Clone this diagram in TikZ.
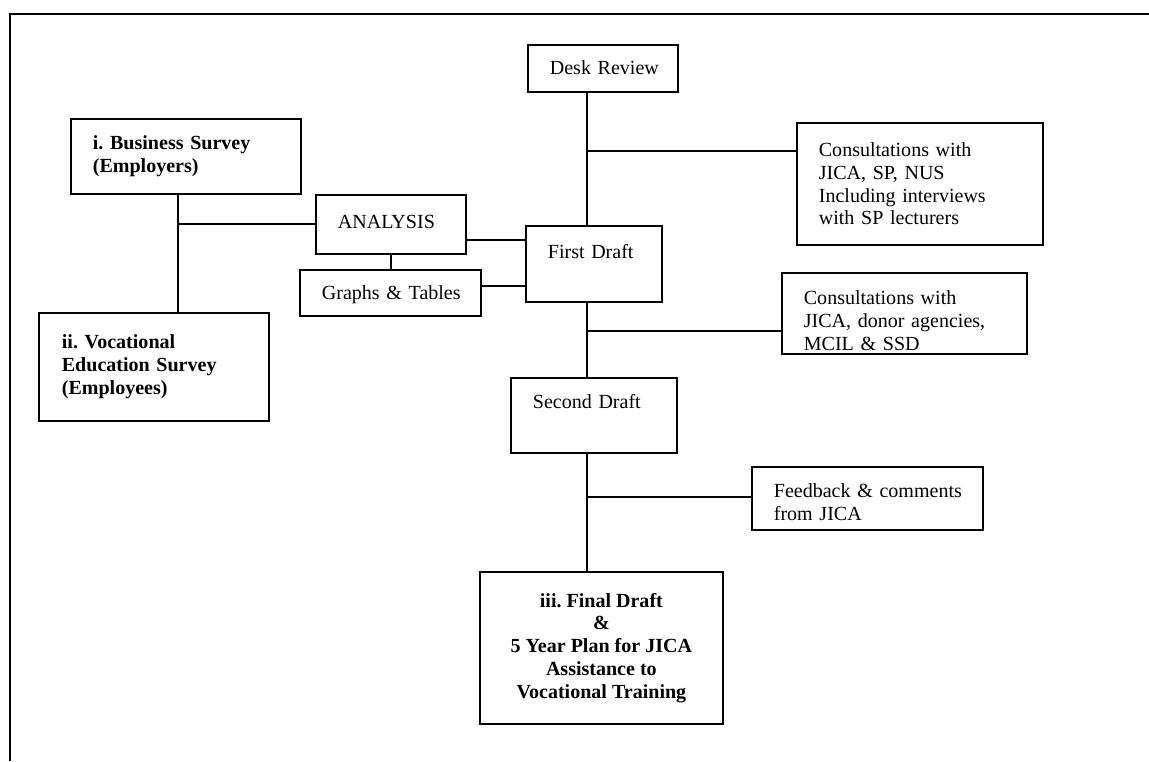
\documentclass[tikz,border=0pt]{standalone}
\usepackage{fontspec}
\setmainfont{Liberation Serif}
\usepackage{tikz}
\usetikzlibrary{positioning,calc}
\frenchspacing

\tikzset{
    box/.style={draw, line width=1pt, anchor=north west, inner sep=0pt, font=\fontsize{11.4}{13}\selectfont},
    leftbox/.style={box, align=left, inner xsep=0.44cm},
    link/.style={line width=1pt}
}

\begin{document}
\begin{tikzpicture}[x=0.02cm, y=-0.02cm]
        \useasboundingbox (0,0) rectangle (1149,761);
        \draw[link] (1149,14) -- (10,14) -- (10,761);

        \node[leftbox, minimum width=3cm, minimum height=0.94cm, text width=2.12cm, text depth=1.5pt] (desk) at (527,44) {\mbox{Desk Review}};
        \node[leftbox, font=\fontsize{11.4}{13}\selectfont\bfseries, minimum width=4.6cm, minimum height=1.5cm, text width=3.72cm] (business) at (70,118) {i. Business Survey\\(Employers)};
        \node[leftbox, minimum width=3cm, minimum height=1.18cm, text width=2.12cm, text depth=3.4pt] (analysis) at (315,194) {\mbox{ANALYSIS}};
        \node[leftbox, minimum width=3.62cm, minimum height=0.92cm, text width=2.74cm, text depth=0pt] (graphs) at (299,269) {\mbox{Graphs \& Tables}};
        \node[leftbox, minimum width=2.72cm, minimum height=1.52cm, text width=1.84cm, text depth=14.6pt] (first) at (525,225) {\mbox{First Draft}};
        \node[leftbox, minimum width=4.92cm, minimum height=2.44cm, text width=4.04cm] (consultA) at (796,122) {Consultations with\\JICA, SP, NUS\\Including interviews\\with SP lecturers};
        \node[leftbox, minimum width=4.9cm, minimum height=1.62cm, text width=4.02cm, text height=16pt] (consultB) at (781,272) {Consultations with\\JICA, donor agencies,\\MCIL \& SSD};
        \node[leftbox, font=\fontsize{11.4}{13}\selectfont\bfseries, minimum width=4.6cm, minimum height=2.16cm, text width=3.68cm] (vocational) at (38,312) {ii. Vocational\\Education Survey\\(Employees)};
        \node[leftbox, minimum width=3.32cm, minimum height=1.5cm, text width=2.44cm, text depth=16.3pt] (second) at (510,377) {\mbox{Second Draft}};
        \node[leftbox, minimum width=4.62cm, minimum height=1.26cm, text width=3.74cm, text height=12pt] (feedback) at (751,466) {\mbox{Feedback \& comments}\\from JICA};
        \node[box, font=\fontsize{11.4}{13}\selectfont\bfseries, align=center, minimum width=4.86cm, minimum height=3.04cm] (final) at (479,571) {iii. Final Draft\\\&\\5 Year Plan for JICA\\Assistance to\\Vocational Training};

        \coordinate (trunk) at (587,0);
        \coordinate (ltrunk) at (178,0);

        \draw[link] (desk.south -| trunk) -- (first.north -| trunk);
        \draw[link] (first.south -| trunk) -- (second.north -| trunk);
        \draw[link] (second.south -| trunk) -- (final.north -| trunk);
        \draw[link] (587,151) -- (consultA.west |- 587,151);
        \draw[link] (587,331) -- (consultB.west |- 587,331);
        \draw[link] (587,497) -- (feedback.west |- 587,497);

        \draw[link] (business.south -| ltrunk) -- (vocational.north -| ltrunk);
        \draw[link] (analysis.west -| ltrunk) -- (analysis.west);
        \draw[link] (analysis.south) -- (graphs.north -| analysis.south);
        \draw[link] (analysis.east |- 0,240) -- (first.west |- 0,240);
        \draw[link] (graphs.east |- 0,286) -- (first.west |- 0,286);
    \end{tikzpicture}
\end{document}
